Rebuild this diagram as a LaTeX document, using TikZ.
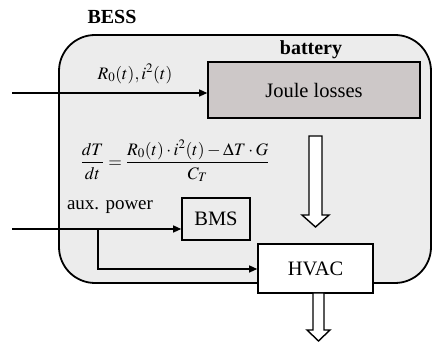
\documentclass[tikz,border=0pt]{standalone}
\usepackage{amsmath}
\usepackage{mathptmx}
\usepackage{fontspec}
\setmainfont{Liberation Serif}
\usetikzlibrary{arrows.meta}
\definecolor{bessfill}{RGB}{236,236,236}
\definecolor{joulefill}{RGB}{205,200,200}
\tikzset{
  lbl/.style={inner sep=0pt, font=\fontsize{19}{22}\selectfont},
  mathlbl/.style={inner sep=0pt, font=\fontsize{17.5}{21}\selectfont},
  blk/.style={draw=black, line width=1.6pt, inner sep=0pt, font=\fontsize{20.5}{24}\selectfont},
  conn/.style={line width=1.3pt, -{Triangle[length=8pt,width=7pt]}},
  hollow/.style={draw=black, fill=white, line width=1.4pt, line join=miter}
}
\begin{document}
\begin{tikzpicture}[x=1pt,y=-1pt]
\useasboundingbox (0,0) rectangle (432,342);
% BESS container
\draw[fill=bessfill, line width=1.8pt, rounded corners=36pt] (59,35) rectangle (431,283);
\node[lbl, font=\fontsize{20}{24}\selectfont\bfseries] (bess) at (112,17) {BESS};
\node[lbl, font=\fontsize{20}{24}\selectfont\bfseries] (battery) at (311,50) {battery};
% Joule losses
\node[blk, fill=joulefill, minimum width=212pt, minimum height=56pt] (joule) at (314,90) {Joule losses};
% input R0
\coordinate (inR) at (12,93);
\draw[conn] (inR) -- (inR -| joule.west);
\node[mathlbl] (rlabel) at (135,74) {$R_0(t), i^2(t)$};
% equation
\node[mathlbl] (eq) at (175,161) {$\dfrac{dT}{dt} = \dfrac{R_0(t)\cdot i^2(t) - \Delta T\cdot G}{C_T}$};
% BMS
\node[blk, minimum width=68pt, minimum height=42pt] (bms) at (216,219) {BMS};
\node[lbl] (aux) at (110,207) {aux. power};
% HVAC
\node[blk, fill=white, minimum width=115pt, minimum height=49pt] (hvac) at (315.5,268.5) {HVAC};
% aux power lines
\coordinate (inA) at (12,229);
\coordinate (br) at (98,229);
\draw[conn] (inA) -- (inA -| bms.west);
\draw[conn] (br) -- (98,269) -- (98,269 -| hvac.west);
% hollow arrow joule -> hvac
\draw[hollow] (309,136) -- (322,136) -- (322,215) -- (329,215) -- (315.5,227) -- (302,215) -- (309,215) -- cycle;
% hollow arrow out of hvac
\draw[hollow] (313,293) -- (324,293) -- (324,330) -- (330,330) -- (318.5,341) -- (307,330) -- (313,330) -- cycle;
\end{tikzpicture}
\end{document}
